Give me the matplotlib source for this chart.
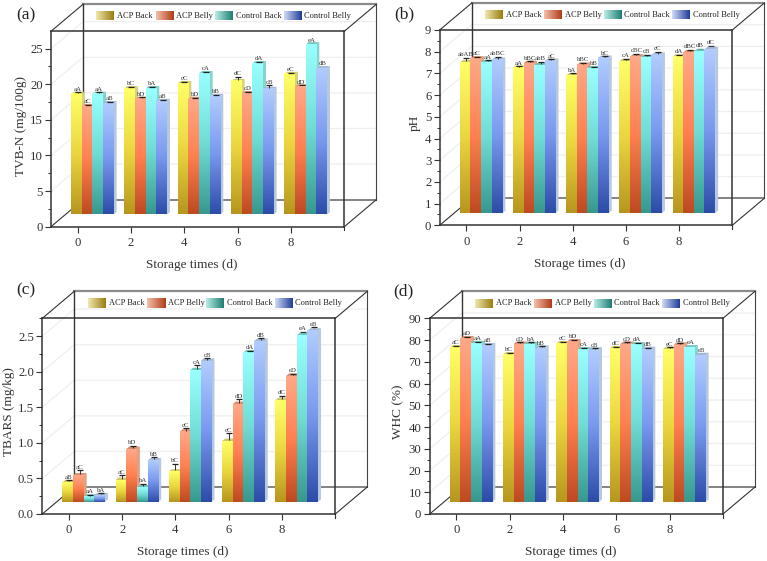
import matplotlib
matplotlib.use('Agg')
import matplotlib.pyplot as plt
import numpy as np
from matplotlib.colors import LinearSegmentedColormap
from matplotlib.patches import Polygon
from matplotlib.ticker import MultipleLocator

plt.rcParams['font.family'] = ['Liberation Serif', 'DejaVu Serif']

W, H = 767, 561

storage_days = [0, 2, 4, 6, 8]
series_names = ['ACP Back', 'ACP Belly', 'Control Back', 'Control Belly']

# rows are storage days, columns follow series_names
tvbn_values = [[18.6, 16.9, 18.6, 17.3],
               [19.4, 17.9, 19.4, 17.6],
               [20.1, 17.9, 21.5, 18.3],
               [20.4, 18.7, 22.9, 19.3],
               [21.4, 19.65, 25.55, 22.2]]
tvbn_errors = [[0.1, 0.05, 0.08, 0.08],
               [0.1, 0.08, 0.05, 0.08],
               [0.08, 0.05, 0.08, 0.08],
               [0.5, 0.08, 0.05, 0.4],
               [0.08, 0.05, 0.05, 0.08]]
tvbn_labels = [['aA', 'aC', 'aA', 'aB'],
               ['bC', 'bD', 'bA', 'aB'],
               ['cC', 'bD', 'cA', 'bB'],
               ['dC', 'cD', 'dA', 'cB'],
               ['eC', 'dD', 'eA', 'dB']]

ph_values = [[7.5, 7.68, 7.51, 7.62],
             [7.25, 7.47, 7.37, 7.57],
             [6.9, 7.39, 7.23, 7.71],
             [7.56, 7.77, 7.74, 7.85],
             [7.77, 7.96, 8.0, 8.11]]
ph_errors = [[0.15, 0.03, 0.03, 0.08],
             [0.03, 0.03, 0.12, 0.03],
             [0.05, 0.03, 0.03, 0.03],
             [0.06, 0.08, 0.06, 0.08],
             [0.03, 0.07, 0.09, 0.1]]
ph_labels = [['abAB', 'aC', 'aA', 'abBC'],
             ['aA', 'bBC', 'abB', 'aC'],
             ['bA', 'bBC', 'bB', 'bC'],
             ['cA', 'cBC', 'cB', 'cC'],
             ['dA', 'dBC', 'dB', 'dC']]

tbars_values = [[0.445, 0.54, 0.243, 0.262],
                [0.478, 0.913, 0.375, 0.749],
                [0.595, 1.156, 2.02, 2.15],
                [1.025, 1.545, 2.27, 2.43],
                [1.6, 1.94, 2.51, 2.575]]
tbars_errors = [[0.01, 0.06, 0.01, 0.01],
                [0.05, 0.03, 0.03, 0.03],
                [0.09, 0.03, 0.05, 0.02],
                [0.09, 0.05, 0.01, 0.02],
                [0.04, 0.01, 0.03, 0.03]]
tbars_labels = [['aB', 'aC', 'aA', 'bA'],
                ['aC', 'bD', 'bA', 'bB'],
                ['bC', 'cC', 'cA', 'cB'],
                ['cC', 'dD', 'dA', 'dB'],
                ['dC', 'eD', 'eA', 'eB']]

whc_values = [[76.5, 80.7, 78.5, 77.5],
              [73.3, 78.2, 78.1, 76.4],
              [78.4, 79.3, 75.6, 75.5],
              [76.1, 78.2, 77.9, 75.8],
              [75.9, 77.8, 76.5, 73.0]]
whc_errors = [[0.3, 0.2, 0.2, 0.3],
              [0.2, 0.2, 0.3, 0.2],
              [0.2, 0.2, 0.2, 0.2],
              [0.2, 0.2, 0.3, 0.2],
              [0.2, 0.2, 0.2, 0.2]]
whc_labels = [['aC', 'aD', 'aA', 'aB'],
              ['bC', 'cD', 'bA', 'bB'],
              ['cC', 'bD', 'cA', 'cB'],
              ['dC', 'cD', 'dA', 'dB'],
              ['eC', 'dD', 'eA', 'eB']]

# bottom, middle, top of each bar
bar_stops = [['#B8961E', '#EAD63F', '#FFFF66'],
             ['#BE4A22', '#FF8050', '#FFA888'],
             ['#38988E', '#70DCD4', '#99FFFF'],
             ['#2C4CA8', '#7898EE', '#B0CCFF']]
side_colors = ['#D8D27E', '#DFA184', '#86D2CC', '#B6C8DE']
top_colors = ['#CFC86A', '#D98E6E', '#6EC6BE', '#A4B8D6']
legend_stops = [['#F0E8B0', '#9A7C10'],
                ['#F4C0AC', '#B03C18'],
                ['#B8EEE8', '#1F7C72'],
                ['#D0DCF6', '#1F3C98']]

FRAME_DX = 32
FRAME_DY = 27
BAR_DX = 14.7
BAR_DY = 12.2
SIDE_DX = 3
SIDE_DY = 2.5


def draw_panel(left, right, top, bottom, ymax, major, minor, values, errors, labels,
               ylabel, letter, letter_xy, ylabel_xy, ticklabels=None):
    ax = fig.add_axes([left / W, 1 - bottom / H, (right - left) / W, (bottom - top) / H])
    ax.patch.set_visible(False)
    xmin, xmax = -1, 10
    sx = (xmax - xmin) / (right - left)
    sy = ymax / (bottom - top)
    fdx, fdy = FRAME_DX * sx, FRAME_DY * sy

    # walls of the box behind the bars
    for v in np.arange(major, ymax, major):
        ax.plot([xmin, xmin + fdx, xmax + fdx], [v, v + fdy, v + fdy], color='#EFEFEF',
                lw=0.9, clip_on=False, zorder=1)
    ax.plot([xmin + fdx, xmax + fdx], [ymax + fdy, ymax + fdy], color='#8A8A8A', lw=1.6,
            clip_on=False, zorder=2)
    ax.plot([xmin + fdx, xmax + fdx], [fdy, fdy], color='#6E6E6E', lw=1.2, clip_on=False, zorder=2)
    ax.plot([xmin + fdx, xmin + fdx], [fdy, ymax + fdy], color='#333333', lw=1.0, clip_on=False, zorder=2)
    ax.plot([xmax + fdx, xmax + fdx], [fdy, ymax + fdy], color='#444444', lw=0.8, clip_on=False, zorder=2)
    for x in (xmin, xmax):
        ax.plot([x, x + fdx], [ymax, ymax + fdy], color='#333333', lw=0.8, clip_on=False, zorder=2)
        ax.plot([x, x + fdx], [0, fdy], color='#333333', lw=0.8, clip_on=False, zorder=2)

    # 3D style bars, one gradient image per bar
    gradient = np.linspace(0, 1, 128).reshape(-1, 1)
    bar_w = 10.65 * sx
    z = 3
    for g, day in enumerate(storage_days):
        x0 = day - 0.8 + BAR_DX * sx
        floor = BAR_DY * sy
        for s in range(4):
            v = values[g][s]
            x1 = x0 + s * bar_w
            x2 = x1 + bar_w
            cmap = LinearSegmentedColormap.from_list('bar', bar_stops[s])
            ax.add_patch(Polygon([(x2, floor), (x2 + SIDE_DX * sx, floor + SIDE_DY * sy),
                                  (x2 + SIDE_DX * sx, v + SIDE_DY * sy), (x2, v)],
                                 fc=side_colors[s], ec='none', zorder=z))
            ax.add_patch(Polygon([(x1, v), (x2, v), (x2 + SIDE_DX * sx, v + SIDE_DY * sy),
                                  (x1 + SIDE_DX * sx, v + SIDE_DY * sy)],
                                 fc=top_colors[s], ec='none', zorder=z))
            ax.imshow(gradient, cmap=cmap, origin='lower', aspect='auto', zorder=z + 0.1,
                      extent=[x1, x2, floor, v])
            # error whisker goes upward only, from the bar top
            xc = (x1 + x2) / 2 + 1.2 * sx
            yb = v + 1.2 * sy
            ax.vlines(xc, yb, yb + errors[g][s], color='#333333', lw=0.7, zorder=20)
            ax.plot([xc], [yb + errors[g][s]], marker='_', ms=4.6, mew=0.9, color='#222222',
                    clip_on=False, zorder=20)
            ax.text(xc - 0.2 * sx, yb + errors[g][s] + 1.6 * sy, labels[g][s], fontsize=4.9, color='#333333',
                    ha='center', va='baseline', zorder=21, clip_on=False)
            z += 1

    # legend row along the top of the box
    swatch_x = [45.3, 104.7, 164, 232.7]
    text_x = [66.3, 125.3, 184.6, 253]
    ly = ymax + 15.3 * sy
    for s, name in enumerate(series_names):
        cmap = LinearSegmentedColormap.from_list('leg', legend_stops[s])
        x1 = xmin + swatch_x[s] * sx
        x2 = x1 + 18 * sx
        ax.imshow(gradient.T, cmap=cmap, aspect='auto', zorder=30, clip_on=False,
                  extent=[x1, x2, ly - 4.5 * sy, ly + 4.5 * sy])
        ax.text(xmin + text_x[s] * sx, ly, name, fontsize=6, color='#222222', va='center',
                zorder=31, clip_on=False)

    ax.plot([xmax, xmax], [0, -3.5 * sy], color='#333333', lw=0.8, clip_on=False)
    ax.set_xlim(xmin, xmax)
    ax.set_ylim(0, ymax)
    ax.set_xticks(storage_days)
    ax.set_xticklabels(storage_days)
    ax.yaxis.set_major_locator(MultipleLocator(major))
    ax.yaxis.set_minor_locator(MultipleLocator(minor))
    if ticklabels:
        ax.yaxis.set_major_formatter(ticklabels)
    ax.tick_params(axis='both', which='major', length=4, width=0.8, labelsize=9.2, color='#333333',
                   labelcolor='#333333', pad=2)
    ax.tick_params(axis='y', which='minor', length=2.5, width=0.7, color='#333333')
    ax.tick_params(axis='x', pad=3.5)
    for sp in ax.spines.values():
        sp.set_linewidth(1.1)
        sp.set_color('#333333')
        sp.set_zorder(40)

    ax.set_xlabel('Storage times (d)', fontsize=9.5, color='#333333', va='center')
    ax.xaxis.set_label_coords(0.48, -38.5 / (bottom - top))
    ax.set_ylabel(ylabel, fontsize=9.5, color='#333333', va='center')
    ax.yaxis.set_label_coords(-ylabel_xy[0] / (right - left), ylabel_xy[1])
    fig.text(letter_xy[0] / W, 1 - letter_xy[1] / H, letter, fontsize=12.5, color='#222222',
             ha='center', va='center')


fig = plt.figure(figsize=(W / 100, H / 100), dpi=100)

draw_panel(51, 344.3, 31.3, 226.7, 27.44, 5, 2.5, tvbn_values, tvbn_errors, tvbn_labels,
           'TVB-N (mg/100g)', '(a)', (25.7, 15), (30, 0.515))
draw_panel(439.7, 732.3, 30, 225.3, 9, 1, 0.5, ph_values, ph_errors, ph_labels,
           'pH', '(b)', (404.7, 14), (25, 0.524))
draw_panel(42.3, 335.3, 318.3, 514, 2.75, 0.5, 0.25, tbars_values, tbars_errors, tbars_labels,
           'TBARS (mg/kg)', '(c)', (26, 290), (33, 0.523), ticklabels='{x:.1f}')
draw_panel(429.7, 723, 318.3, 514, 90, 10, 5, whc_values, whc_errors, whc_labels,
           'WHC (%)', '(d)', (403, 291), (31, 0.523))

fig.savefig('out.png', dpi=100)
